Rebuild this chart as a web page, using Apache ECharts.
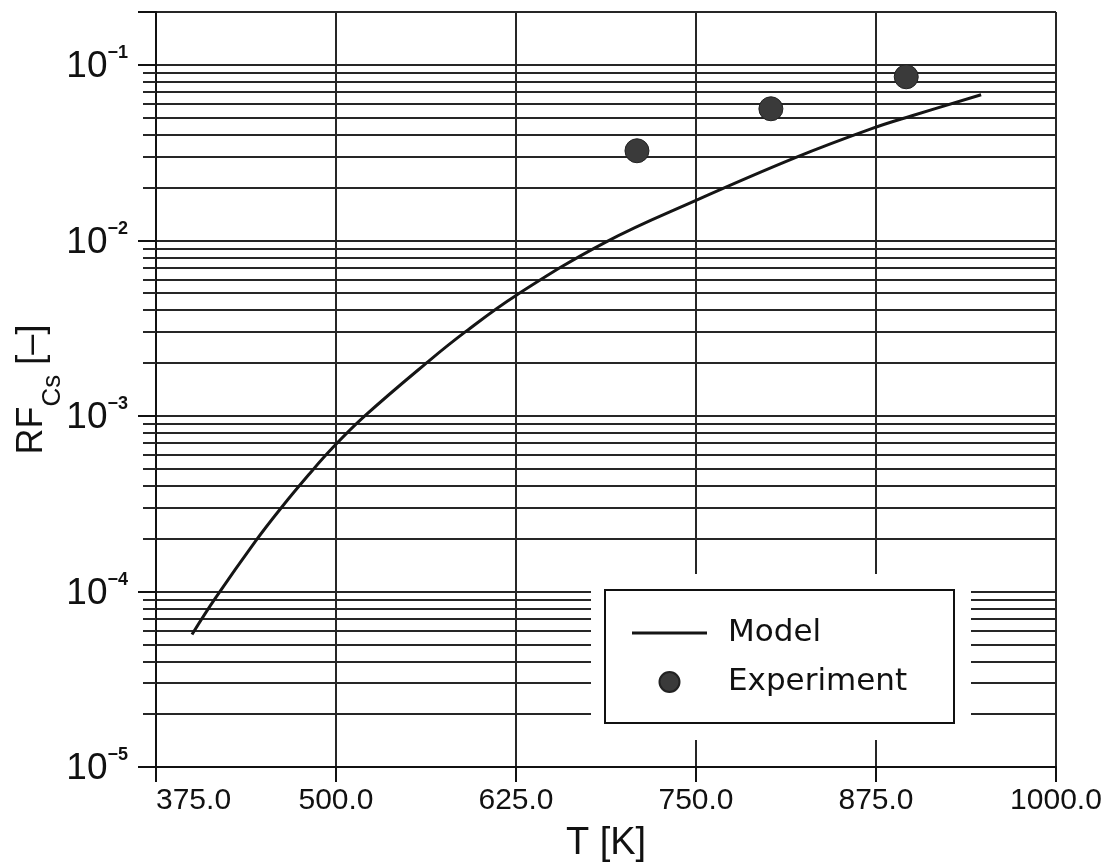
<!DOCTYPE html>
<html>
<head>
<meta charset="utf-8">
<script src="https://cdn.jsdelivr.net/npm/echarts@6/dist/echarts.min.js"></script>
<style>
  html, body { margin: 0; padding: 0; background: #fff; }
  #chart { width: 1113px; height: 865px; }
</style>
</head>
<body>
<div id="chart"></div>
<script>
// Modelkurve (T in K, RF_Cs)
const modelT = [400, 416, 444, 462, 481, 497, 520, 564, 590, 625, 687, 750, 819, 872, 900, 948];
const modelRF = [5.69e-5, 9.1e-5, 1.93e-4, 3.0e-4, 4.62e-4, 6.5e-4, 1.0e-3, 2.04e-3, 3.02e-3,
  4.86e-3, 9.75e-3, 0.0169, 0.0296, 0.0433, 0.0513, 0.0675];

// Messpunkte
const expT = [709, 802, 896];
const expRF = [0.0324, 0.0562, 0.0855];

const xTicks = [375, 500, 625, 750, 875, 1000];
const yRange = [1e-5, 0.2];

const ink = '#111';
const gridInk = '#262626';

const chart = echarts.init(document.getElementById('chart'));

const option = {
  animation: false,
  backgroundColor: '#fff',
  grid: {
    left: 156, right: 57, top: 12, bottom: 98,
    containLabel: false,
    outerBoundsMode: 'none'
  },
  legend: {
    orient: 'vertical',
    left: 605,
    top: 590,
    z: 100,
    padding: [25, 26, 23, 27],
    itemGap: 13,
    itemWidth: 75,
    itemHeight: 20,
    borderColor: ink,
    borderWidth: 2,
    backgroundColor: 'transparent',
    textStyle: {
      fontFamily: 'DejaVu Sans',
      fontSize: 31,
      lineHeight: 36,
      color: ink,
      width: 200,
      padding: [0, 0, 0, 16]
    },
    data: [
      { name: 'Model', icon: 'path://M0,0H75V3H0Z', itemStyle: { color: '#151515' } },
      { name: 'Experiment', icon: 'circle' }
    ]
  },
  graphic: {
    elements: [{
      type: 'rect',
      z: 90,
      shape: { x: 591, y: 574, width: 380, height: 166 },
      style: { fill: '#fff' }
    }]
  },
  xAxis: {
    type: 'value',
    min: xTicks[0],
    max: xTicks[xTicks.length - 1],
    interval: xTicks[1] - xTicks[0],
    name: 'T [K]',
    nameLocation: 'middle',
    nameGap: 58,
    nameMoveOverlap: false,
    nameTextStyle: { fontFamily: 'Liberation Sans', fontSize: 38, color: ink },
    axisLine: { show: true, onZero: false, lineStyle: { color: ink, width: 2 } },
    axisTick: { show: true, inside: false, length: 15, lineStyle: { color: ink, width: 2 } },
    splitLine: { show: true, lineStyle: { color: gridInk, width: 2 } },
    axisLabel: {
      margin: 19,
      fontFamily: 'Liberation Sans',
      fontSize: 30,
      color: ink,
      alignMinLabel: 'left',
      formatter: v => v.toFixed(1)
    }
  },
  yAxis: {
    type: 'log',
    logBase: 10,
    min: yRange[0],
    max: yRange[1],
    name: '{a|RF}{b|Cs}{a| [–]}',
    nameLocation: 'middle',
    nameRotate: 90,
    nameGap: 90,
    nameMoveOverlap: false,
    nameTextStyle: {
      rich: {
        a: { fontFamily: 'Liberation Sans', fontSize: 36, color: ink, padding: [0, 0, 16, 0] },
        b: { fontFamily: 'Liberation Sans', fontSize: 26, color: ink, verticalAlign: 'bottom' }
      }
    },
    axisLine: { show: true, lineStyle: { color: ink, width: 2 } },
    axisTick: { show: true, inside: false, length: 18, lineStyle: { color: ink, width: 2 } },
    minorTick: { show: true, splitNumber: 9, length: 13, lineStyle: { color: gridInk, width: 2 } },
    splitLine: { show: true, lineStyle: { color: gridInk, width: 2 } },
    minorSplitLine: { show: true, lineStyle: { color: gridInk, width: 2 } },
    axisLabel: {
      margin: 28,
      formatter(v) {
        const e = Math.round(Math.log10(v));
        if (Math.abs(v / Math.pow(10, e) - 1) > 1e-6) return '';
        return `{b|10}{s|${e < 0 ? '\u2212' : ''}${Math.abs(e)}}`;
      },
      rich: {
        b: {
          fontFamily: "'Liberation Sans Narrow', 'Liberation Sans'",
          fontSize: 37,
          color: ink,
          padding: [4, 0, 0, 0]
        },
        s: {
          fontFamily: 'Liberation Sans',
          fontWeight: 'bold',
          fontSize: 18,
          color: ink,
          verticalAlign: 'top'
        }
      }
    }
  },
  series: [
    {
      name: 'Model',
      type: 'line',
      z: 5,
      smooth: 0.4,
      symbol: 'none',
      lineStyle: { color: '#151515', width: 3 },
      itemStyle: { color: '#151515' },
      data: modelT.map((t, i) => [t, modelRF[i]])
    },
    {
      name: 'Experiment',
      type: 'scatter',
      z: 6,
      symbol: 'circle',
      symbolSize: 24,
      itemStyle: { color: '#3a3a3a', borderColor: '#222', borderWidth: 1, opacity: 1 },
      data: expT.map((t, i) => [t, expRF[i]])
    }
  ]
};

chart.setOption(option);
</script>
</body>
</html>
